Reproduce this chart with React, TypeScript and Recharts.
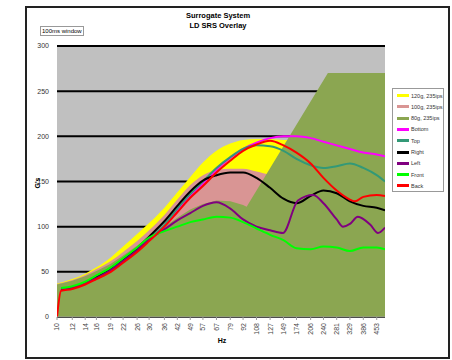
import { Area, CartesianGrid, ComposedChart, Line, XAxis, YAxis } from "recharts";

const HZ_TICKS = [10, 12, 14, 16, 19, 22, 26, 30, 36, 42, 49, 57, 67, 79, 92, 108, 127, 149, 174, 206, 240, 281, 329, 386, 453];
const G_TICKS = [0, 50, 100, 150, 200, 250, 300];

// [Hz, G's]
const env120: [number, number][] = [
  [10, 37], [12, 42], [14, 48], [16, 55], [19, 66], [22, 78], [26, 92], [30, 104], [36, 121], [42, 138],
  [49, 155], [57, 171], [67, 184], [79, 192], [92, 196], [108, 197], [127, 197], [149, 196], [500, 196],
];
const env100: [number, number][] = [
  [10, 36.5], [12, 41], [14, 46.5], [16, 53], [19, 62], [22, 72], [26, 84], [30, 96], [36, 113], [42, 130],
  [49, 146], [57, 157], [67, 162.5], [79, 164], [92, 164], [108, 161], [127, 158], [500, 158],
];
const env80: [number, number][] = [
  [10, 36], [12, 40], [14, 45], [16, 51], [19, 59], [22, 68], [26, 79], [30, 89], [36, 100], [42, 110],
  [49, 119], [57, 125], [67, 129], [79, 128], [92, 124], [96, 122], [253, 270], [500, 270],
];
const bottom: [number, number][] = [
  [10.5, 30], [12, 32], [14, 37], [16, 43], [19, 51], [22, 61], [26, 73], [30, 85], [36, 101], [42, 118],
  [49, 134], [57, 148], [67, 163], [79, 176], [92, 186], [108, 193], [127, 198], [149, 200], [174, 200],
  [206, 198], [240, 194], [281, 190], [329, 186], [386, 182], [453, 180], [500, 178],
];
const top: [number, number][] = [
  [10.5, 31], [12, 33], [14, 38], [16, 44], [19, 52], [22, 62], [26, 74], [30, 86], [36, 102], [42, 120],
  [49, 136], [57, 150], [67, 165], [79, 177], [92, 186], [108, 190], [127, 189], [149, 184], [174, 175],
  [206, 168], [240, 165], [281, 167], [329, 170], [386, 165], [453, 157], [500, 150],
];
const right: [number, number][] = [
  [10.5, 31], [12, 33], [14, 38], [16, 44], [19, 53], [22, 63], [26, 76], [30, 89], [36, 106], [42, 123],
  [49, 139], [57, 151], [67, 157], [79, 160], [92, 160], [108, 154], [127, 143], [149, 131], [174, 126],
  [206, 134], [240, 140], [281, 137], [329, 128], [386, 123], [453, 121], [500, 118],
];
const left: [number, number][] = [
  [10.5, 31], [12, 33], [14, 37], [16, 43], [19, 52], [22, 62], [26, 74], [30, 86], [36, 97], [42, 107],
  [49, 115], [57, 123], [67, 127], [79, 120], [92, 108], [108, 100], [127, 96], [148, 93], [177, 129],
  [212, 135], [240, 126], [281, 108], [303, 100], [329, 103], [362, 111], [420, 102], [460, 93], [500, 99],
];
const front: [number, number][] = [
  [10.5, 32], [12, 34], [14, 39], [16, 46], [19, 55], [22, 65], [26, 77], [30, 88], [36, 95], [42, 100],
  [49, 105], [57, 108], [67, 111], [79, 110], [92, 105], [108, 98], [127, 91], [149, 85], [174, 76],
  [206, 75], [240, 78], [281, 77], [329, 73], [386, 77], [453, 77], [500, 75],
];
const back: [number, number][] = [
  [10, 0], [10.5, 29], [12, 31], [14, 36], [16, 42], [19, 50], [22, 60], [26, 72], [30, 84], [36, 100],
  [42, 116], [49, 132], [57, 145], [67, 160], [79, 173], [92, 184], [108, 191], [127, 195], [149, 190],
  [174, 182], [206, 170], [240, 154], [281, 140], [329, 130], [350, 128], [386, 133], [453, 135], [500, 134],
];

const AREAS = [
  { name: "120g, 235ips", pts: env120, color: "#ffff00", type: "monotone" as const },
  { name: "100g, 235ips", pts: env100, color: "#d99594", type: "monotone" as const },
  { name: "80g, 235ips", pts: env80, color: "#8ba651", type: "linear" as const },
];
const LINES = [
  { name: "Bottom", pts: bottom, color: "#ff00ff" },
  { name: "Top", pts: top, color: "#339977" },
  { name: "Right", pts: right, color: "#000000" },
  { name: "Left", pts: left, color: "#800080" },
  { name: "Front", pts: front, color: "#00ff00" },
  { name: "Back", pts: back, color: "#ff0000" },
];

const toRows = (pts: [number, number][]) => pts.map(([hz, g]) => ({ hz, g }));

const FONT = "'Liberation Sans', Arial, sans-serif";

function HzTick({ x, y, payload }: any) {
  return (
    <g transform={`translate(${x},${y + 1}) rotate(-90)`}>
      <text textAnchor="end" dy="0.35em" fontSize={7} fill="#444" fontFamily={FONT}>
        {payload.value}
      </text>
    </g>
  );
}

export default function App() {
  const legend = [...AREAS, ...LINES];
  return (
    <div style={{ position: "absolute", left: 0, top: 0, width: 452, height: 360, fontFamily: FONT, background: "#fff" }}>
      <div style={{ position: "absolute", left: 25, top: 6, width: 425, height: 353, border: "2px solid #222", boxSizing: "border-box" }} />
      <ComposedChart width={452} height={360} margin={{ top: 46, right: 67, bottom: 0, left: 37 }}>
        <CartesianGrid fill="#c0c0c0" vertical={false} stroke="#000" strokeWidth={2} />
        <XAxis
          dataKey="hz"
          type="number"
          scale="log"
          domain={[10, 500]}
          ticks={HZ_TICKS}
          interval={0}
          allowDataOverflow
          height={43}
          tick={<HzTick />}
          tickSize={3}
          axisLine={{ stroke: "#999" }}
          tickLine={{ stroke: "#999" }}
        />
        <YAxis
          domain={[0, 300]}
          ticks={G_TICKS}
          width={20}
          axisLine={false}
          tickLine={false}
          tickMargin={2}
          tick={{ fontSize: 7, fill: "#333", fontFamily: FONT }}
        />
        {AREAS.map((a) => (
          <Area
            key={a.name}
            data={toRows(a.pts)}
            dataKey="g"
            type={a.type}
            fill={a.color}
            fillOpacity={1}
            stroke="none"
            isAnimationActive={false}
          />
        ))}
        {LINES.map((l) => (
          <Line
            key={l.name}
            data={toRows(l.pts)}
            dataKey="g"
            type="monotone"
            stroke={l.color}
            strokeWidth={2}
            dot={false}
            isAnimationActive={false}
          />
        ))}
      </ComposedChart>

      <div style={{ position: "absolute", left: 118, width: 200, top: 11, textAlign: "center", fontSize: 7.5, fontWeight: "bold", lineHeight: "10px" }}>
        Surrogate System
        <br />
        LD SRS Overlay
      </div>
      <div style={{ position: "absolute", left: 40, top: 26, width: 44, height: 10, border: "1px solid #999", boxSizing: "border-box", fontSize: 6, lineHeight: "8px", paddingLeft: 1, whiteSpace: "nowrap", overflow: "hidden" }}>
        100ms window
      </div>
      <div style={{ position: "absolute", left: 37, top: 183, transform: "translate(-50%,-50%) rotate(-90deg)", fontSize: 7, fontWeight: "bold" }}>
        G's
      </div>
      <div style={{ position: "absolute", left: 212, top: 337, width: 20, textAlign: "center", fontSize: 7, fontWeight: "bold" }}>
        Hz
      </div>
      <div style={{ position: "absolute", left: 392, top: 88, width: 52, height: 104, border: "1px solid #999", background: "#fff", boxSizing: "border-box" }}>
        {legend.map((e, i) => (
          <div key={e.name} style={{ position: "absolute", left: 4, top: 2 + i * 11.3, height: 9, display: "flex", alignItems: "center", whiteSpace: "nowrap" }}>
            <div style={{ width: 12, height: 3, background: e.color, marginRight: 2 }} />
            <span style={{ fontSize: 5.5, color: "#333" }}>{e.name}</span>
          </div>
        ))}
      </div>
    </div>
  );
}
